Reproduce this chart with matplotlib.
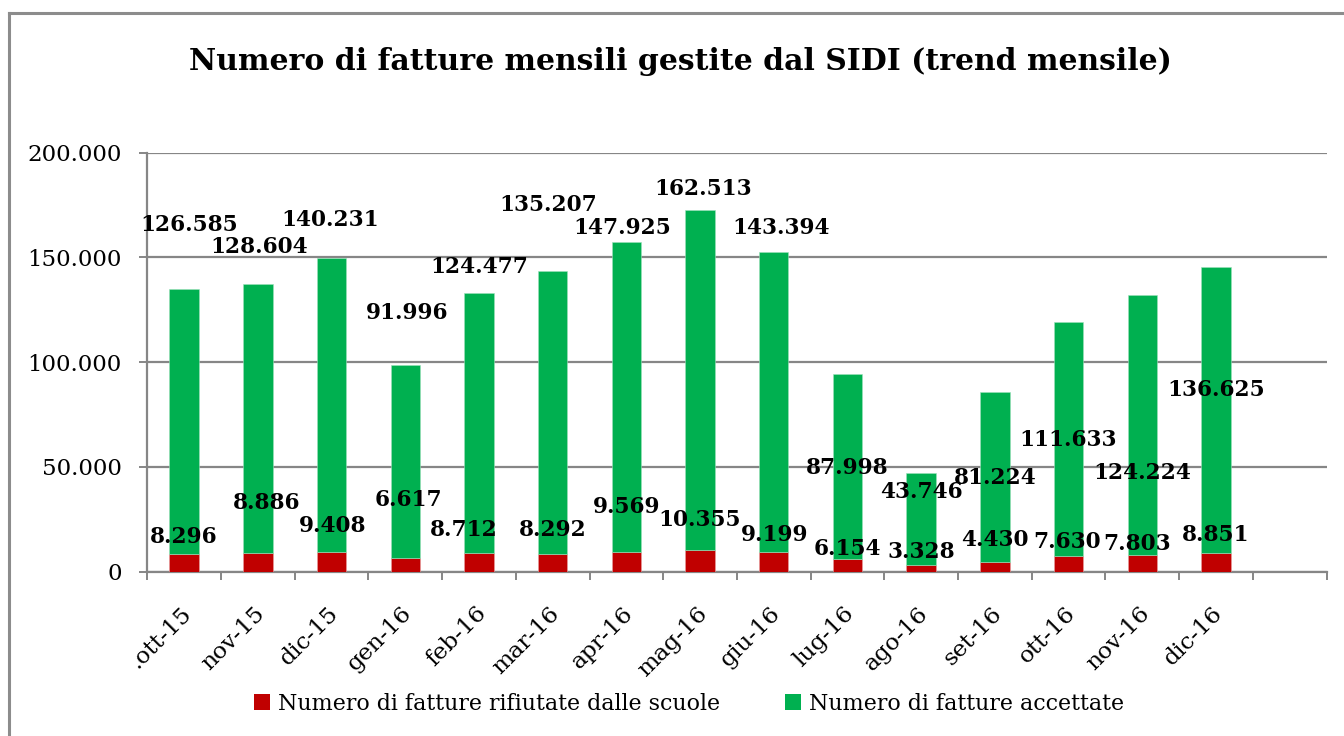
import matplotlib
matplotlib.use("Agg")
import matplotlib.pyplot as plt
from matplotlib.patches import Patch
from matplotlib.lines import Line2D
from matplotlib.ticker import FixedLocator, FuncFormatter
import matplotlib.transforms as mtransforms
import numpy as np

# ---------------- data ----------------
months = [".ott-15", "nov-15", "dic-15", "gen-16", "feb-16", "mar-16", "apr-16",
          "mag-16", "giu-16", "lug-16", "ago-16", "set-16", "ott-16", "nov-16", "dic-16"]
rejected = [8296, 8886, 9408, 6617, 8712, 8292, 9569, 10355, 9199,
            6154, 3328, 4430, 7630, 7803, 8851]
accepted = [126585, 128604, 140231, 91996, 124477, 135207, 147925, 162513, 143394,
            87998, 43746, 81224, 111633, 124224, 136625]
series_names = ["Numero di fatture rifiutate dalle scuole", "Numero di fatture accettate"]
title = "Numero di fatture mensili gestite dal SIDI (trend mensile)"

# ---------------- label placement (manually dragged in the original) ----------------
acc_label_dx = [0.07, 0.02, -0.02, 0.02, 0.01, -0.06, -0.06, 0.04, 0.10,
                0.0, 0.0, 0.0, 0.0, 0.0, 0.0]
acc_label_y = [165500, 155000, 167900, 123500, 145400, 175000, 164000, 182700, 164000,
               49500, 38000, 44700, 62900, 47100, 86700]
rej_label_dx = [0.0, 0.12, 0.01, 0.04, -0.20, 0.0, 0.0, 0.0, 0.01,
                0.0, 0.0, 0.0, -0.02, -0.07, 0.0]
rej_label_y = [16600, 32800, 21800, 34200, 19900, 19900, 30900, 24700, 17500,
               10800, 9400, 15100, 14200, 13200, 17500]

RED = "#C00000"
GREEN = "#00B050"
GRID = "#868686"
FONT = "DejaVu Serif"

def fmt_it(v, pos=None):
    return f"{int(v):,}".replace(",", ".")

W, H = 1344, 736
fig = plt.figure(figsize=(W / 100, H / 100), dpi=100)
fig.patch.set_facecolor("white")

# outer chart border (only left and top edges are visible in the original)
bx, by = 9 / W, 1 - 13 / H
fig.add_artist(Line2D([bx, bx], [0, by], transform=fig.transFigure,
                      color="#8C8C8C", linewidth=2.2, solid_capstyle="projecting"))
fig.add_artist(Line2D([bx, 1.0], [by, by], transform=fig.transFigure,
                      color="#8C8C8C", linewidth=2.2, solid_capstyle="projecting"))

left, right = 147.3 / W, 1326.5 / W
bottom, top = 1 - 571.7 / H, 1 - 152.7 / H
ax = fig.add_axes([left, bottom, right - left, top - bottom])

x = np.arange(len(months))
bw = 0.40
ax.bar(x, rejected, bw, color=RED, zorder=3, label=series_names[0],
       edgecolor="#E8A0A0", linewidth=0.4)
ax.bar(x, accepted, bw, bottom=rejected, color=GREEN, zorder=3, label=series_names[1],
       edgecolor="#9EE0BC", linewidth=0.4)

ax.set_xlim(-0.5, 15.5)
ax.set_ylim(0, 200000)
ax.yaxis.set_major_locator(FixedLocator(np.arange(0, 200001, 50000)))
ax.yaxis.set_major_formatter(FuncFormatter(fmt_it))
ax.grid(axis="y", color=GRID, linewidth=1.6, zorder=0)
ax.set_axisbelow(True)

for s in ["top", "right"]:
    ax.spines[s].set_visible(False)
for s in ["left", "bottom"]:
    ax.spines[s].set_color(GRID)
    ax.spines[s].set_linewidth(1.6)

ax.tick_params(axis="y", length=5.5, width=1.4, color=GRID, pad=13, labelsize=16.5)
for t in ax.get_yticklabels():
    t.set_fontfamily(FONT)

ax.set_xticks(x)
ax.set_xticklabels(months, rotation=45, ha="right", va="top",
                   rotation_mode="anchor", fontsize=16.8, fontfamily=FONT)
ax.tick_params(axis="x", which="major", length=0, pad=22)
ax.set_xticks(np.arange(-0.5, 15.6, 1.0), minor=True)
ax.tick_params(axis="x", which="minor", length=6, width=1.4, color=GRID)
for t in ax.get_xticklabels():
    t.set_transform(t.get_transform() + mtransforms.ScaledTranslation(-4 / 100, 0, fig.dpi_scale_trans))

# data labels
for i in range(len(months)):
    ax.text(x[i] + acc_label_dx[i], acc_label_y[i], fmt_it(accepted[i]),
            ha="center", va="center", fontsize=15.6, fontweight="bold",
            fontfamily=FONT, zorder=5, color="black")
    ax.text(x[i] + rej_label_dx[i], rej_label_y[i], fmt_it(rejected[i]),
            ha="center", va="center", fontsize=15.6, fontweight="bold",
            fontfamily=FONT, zorder=5, color="black")

fig.text(680 / W, 1 - 61 / H, title, ha="center", va="center",
         fontsize=21.5, fontweight="bold", fontfamily=FONT)

handles = [Patch(facecolor=RED, edgecolor="none", label=series_names[0]),
           Patch(facecolor=GREEN, edgecolor="none", label=series_names[1])]
fig.legend(handles=handles, loc="center", bbox_to_anchor=(689 / W, 1 - 704 / H),
           ncol=2, frameon=False, prop={"family": FONT, "size": 15.9},
           handlelength=0.72, handleheight=0.72, handletextpad=0.35,
           columnspacing=2.95)

fig.savefig("out.png", dpi=100, facecolor="white")
